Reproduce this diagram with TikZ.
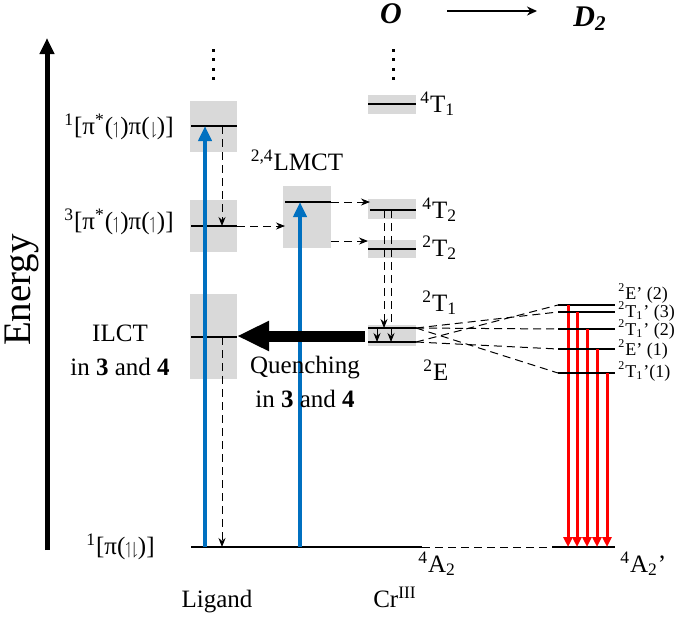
\documentclass[tikz,border=0pt]{standalone}
\usepackage{amssymb}
\usepackage{fontspec}
\setmainfont{Liberation Serif}
\usetikzlibrary{arrows.meta}
\definecolor{boxgray}{HTML}{D9D9D9}
\definecolor{exblue}{HTML}{0070C0}
\newcommand{\spinup}{\ensuremath{\scriptstyle\upharpoonleft}}
\newcommand{\spindn}{\ensuremath{\scriptstyle\downharpoonright}}

\begin{document}
\begin{tikzpicture}[x=.5pt, y=-.5pt, >={Stealth[length=4.5pt,width=3.5pt]},
    lab/.style={font=\fontsize{12.5}{17}\selectfont, inner sep=0pt},
    sublab/.style={font=\fontsize{9}{11}\selectfont, inner sep=0pt, anchor=base west},
    lvl/.style={line width=.6pt},
    flow/.style={->, dash pattern=on 4pt off 2.5pt, line width=.5pt},
    fan/.style={dash pattern=on 4pt off 2.5pt, line width=.5pt},
    excite/.style={line width=2pt, draw=exblue, -{Triangle[length=7.5pt,width=6.5pt]}},
    emit/.style={line width=1.5pt, draw=red, -{Triangle[length=5pt,width=4.5pt]}}]
    \useasboundingbox (0,0) rectangle (678,617);
    \coordinate (e0) at (47,550); \coordinate (e1) at (47,38);
    \draw[line width=2.5pt, -{Triangle[length=8pt,width=7pt]}] (e0) -- (e1);
    \node[rotate=90, font=\fontsize{19.5}{22}\selectfont, inner sep=0pt] (energy) at (22,290) {Energy};
    \node[font=\fontsize{15}{17}\selectfont\bfseries\itshape] (Oh) at (391,14) {O};
    \node[font=\fontsize{15}{17}\selectfont\bfseries\itshape] (D2) at (590,19) {D\textsubscript{2}};
    \coordinate (s0) at (447,11); \coordinate (s1) at (537,11);
    \draw[line width=.8pt, -{Stealth[length=5pt,width=4.5pt]}] (s0) -- (s1);
    \foreach \x in {213,393} \foreach \y in {50,59,69,78}
    \fill (\x-1.5,\y-1.5) rectangle ++(3,3);
    \foreach \xa/\ya/\xb/\yb in {190/101/237/152, 190/200/237/252, 190/294/237/379,
    283/186/331/248, 368/95/416/114, 368/199/416/219, 368/240/416/258, 368/325/416/346}
    \fill[boxgray] (\xa,\ya) rectangle (\xb,\yb);
    \foreach \n/\xa/\xb/\y in {S/191/237/126, T/191/237/226, I/191/237/337, L/285/331/202,
    Q/368/416/104, P/370/416/210, R/368/416/249, A/368/416/328, B/368/416/342,
    G/191/422/547, H/552/615/547} {
    \coordinate (\n0) at (\xa,\y); \coordinate (\n1) at (\xb,\y);
    \draw[lvl] (\n0) -- (\n1);
    }
    \foreach \i/\y/\x in {1/305/568, 2/312/577, 3/329/587, 4/349/597, 5/373/607} {
    \coordinate (d\i) at (558,\y); \coordinate (r\i) at (\x,\y);
    \draw[lvl] (d\i) -- (615,\y);
    \draw[emit] (r\i) -- (r\i |- H0);
    }
    \coordinate (b1) at (205,547); \coordinate (b2) at (300,547);
    \draw[excite] (b1) -- (b1 |- S0);
    \draw[excite] (b2) -- (b2 |- L0);
    \coordinate (v1) at (222,126); \coordinate (v2) at (222,337);
    \draw[flow] (v1) -- (v1 |- T0);
    \draw[flow] (v2) -- (v2 |- G0);
    \draw[flow] (T1) -- (T1 -| L0);
    \draw[flow] (L1) -- (L1 -| P0);
    \coordinate (l2) at (331,241);
    \draw[flow] (l2) -- (l2 -| R0);
    \coordinate (c1) at (384,210); \coordinate (c2) at (391,210); \coordinate (c3) at (377,328);
    \draw[flow] (c1) -- (c1 |- A0);
    \draw[flow] (c2) -- (c2 |- B0);
    \draw[flow] (c3) -- (c3 |- B0);
    \foreach \s/\t in {A1/d2, A1/d3, A1/d5, B1/d1, B1/d4} \draw[fan] (\s) -- (\t);
    \draw[fan] (G1) -- (H0);
    \coordinate (q0) at (365,336);
    \draw[line width=5.5pt, -{Triangle[length=16pt,width=14pt]}] (q0) -- (q0 -| I1);
    \node[lab, anchor=base east] (lS) at (174,134) {\textsuperscript{1}[π\textsuperscript{*}(\spinup)π(\spindn)]};
    \node[lab, anchor=base east] (lT) at (174,229) {\textsuperscript{3}[π\textsuperscript{*}(\spinup)π(\spinup)]};
    \node[lab, anchor=base east] (lG) at (155,554) {\textsuperscript{1}[π(\spinup\kern-1pt\spindn)]};
    \node[lab, align=center] (lI) at (120,350) {ILCT\\in \textbf{3} and \textbf{4}};
    \node[lab, align=center] (lQ) at (305,382) {Quenching\\in \textbf{3} and \textbf{4}};
    \node[lab] (lL) at (297,160) {\textsuperscript{2,4}LMCT};
    \node[lab, anchor=base west] (t41) at (420,112) {\textsuperscript{4}T\textsubscript{1}};
    \node[lab, anchor=base west] (t42) at (422,218) {\textsuperscript{4}T\textsubscript{2}};
    \node[lab, anchor=base west] (t22) at (422,256) {\textsuperscript{2}T\textsubscript{2}};
    \node[lab, anchor=base west] (t21) at (422,311) {\textsuperscript{2}T\textsubscript{1}};
    \node[lab, anchor=base west] (e2) at (423,380) {\textsuperscript{2}E};
    \node[lab, anchor=base west] (a42) at (418,572) {\textsuperscript{4}A\textsubscript{2}};
    \node[lab, anchor=base west] (a42p) at (620,572) {\textsuperscript{4}A\textsubscript{2}’};
    \node[lab, anchor=base] (lig) at (217,607) {Ligand};
    \node[lab, anchor=base] (cr) at (395,607) {Cr\textsuperscript{III}};
    \node[sublab] (n1) at (618,299) {\textsuperscript{2}E’ (2)};
    \node[sublab] (n2) at (618,317) {\textsuperscript{2}T\textsubscript{1}’ (3)};
    \node[sublab] (n3) at (618,335) {\textsuperscript{2}T\textsubscript{1}’ (2)};
    \node[sublab] (n4) at (618,355) {\textsuperscript{2}E’ (1)};
    \node[sublab] (n5) at (618,377) {\textsuperscript{2}T\textsubscript{1}’(1)};
\end{tikzpicture}
\end{document}
